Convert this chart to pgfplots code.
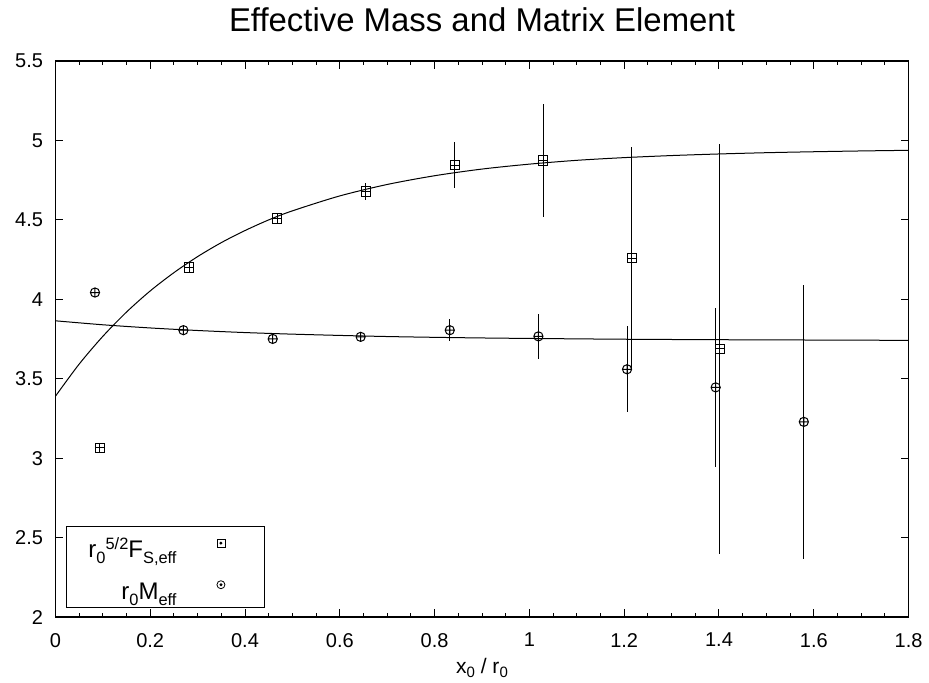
\documentclass[border=0pt]{standalone}
\usepackage{pgfplots}
\pgfplotsset{compat=1.18}
\usepackage{fontspec}
\setmainfont{Liberation Sans}
\newcommand{\mysub}[1]{\raisebox{-2.2pt}{\fontsize{7.5}{8}\selectfont #1}}
\newcommand{\lsub}[1]{\raisebox{-3pt}{\fontsize{8.2}{9}\selectfont #1}}
\newcommand{\lsup}[1]{\raisebox{4.2pt}{\fontsize{8.2}{9}\selectfont #1}}
\pgfdeclareplotmark{sqplus}{%
  \pgfpathrectangle{\pgfpoint{-\pgfplotmarksize}{-\pgfplotmarksize}}{\pgfpoint{2\pgfplotmarksize}{2\pgfplotmarksize}}%
  \pgfpathmoveto{\pgfpoint{-\pgfplotmarksize}{0pt}}\pgfpathlineto{\pgfpoint{\pgfplotmarksize}{0pt}}%
  \pgfpathmoveto{\pgfpoint{0pt}{-\pgfplotmarksize}}\pgfpathlineto{\pgfpoint{0pt}{\pgfplotmarksize}}%
  \pgfusepathqstroke}
\pgfdeclareplotmark{circplus}{%
  \pgfpathcircle{\pgfpointorigin}{\pgfplotmarksize}%
  \pgfpathmoveto{\pgfpoint{-\pgfplotmarksize}{0pt}}\pgfpathlineto{\pgfpoint{\pgfplotmarksize}{0pt}}%
  \pgfpathmoveto{\pgfpoint{0pt}{-\pgfplotmarksize}}\pgfpathlineto{\pgfpoint{0pt}{\pgfplotmarksize}}%
  \pgfusepathqstroke}
\begin{document}
\begin{tikzpicture}
\begin{axis}[
  at={(0,0)}, anchor=south west,
  scale only axis, width=426.5pt, height=278pt,
  xmin=0, xmax=1.8, ymin=2, ymax=5.5,
  xtick={0,0.2,0.4,0.6,0.8,1,1.2,1.4,1.6,1.8},
  xticklabels={0,0.2,0.4,0.6,0.8,1,1.2,1.4,1.6,1.8},
  ytick={2,2.5,3,3.5,4,4.5,5,5.5},
  yticklabels={2,2.5,3,3.5,4,4.5,5,5.5},
  minor x tick num=3,
  tick align=inside,
  major tick length=4pt, minor tick length=2pt,
  tick style={black, line width=0.5pt},
  axis line style={black, line width=0.75pt},
  ticklabel style={font=\fontsize{10}{12}\selectfont},
  xticklabel style={yshift=-4.5pt},
  yticklabel style={xshift=-2.7pt},
  /pgf/number format/assume math mode=true,
  title={Effective Mass and Matrix Element},
  title style={at={(axis description cs:0.5,1)}, anchor=base, yshift=9pt, font=\fontsize{16.45}{19}\selectfont},
  xlabel={x\mysub{0} / r\mysub{0}},
  xlabel style={at={(axis description cs:0.5,0)}, anchor=base, yshift=-28pt, font=\fontsize{10.5}{12}\selectfont},
  legend plot pos=right,
  legend cell align=right,
  legend style={at={(0.0124,0.0162)}, anchor=south west, draw=black, line width=0.5pt,
    inner xsep=11pt, inner ysep=2.2pt, row sep=5.3pt,
    font=\fontsize{12}{14}\selectfont,
    nodes={inner sep=0pt, text height=13.5pt, text depth=2pt}},
]
% fit curves
\addplot[black, line width=0.5pt, smooth, forget plot] coordinates {
(0,3.390) (0.05,3.592) (0.1,3.767) (0.15,3.920) (0.2,4.053) (0.25,4.168)
(0.3,4.269) (0.35,4.357) (0.4,4.433) (0.45,4.500) (0.5,4.557) (0.6,4.651)
(0.7,4.723) (0.8,4.778) (0.9,4.820) (1.0,4.851) (1.1,4.875) (1.2,4.892)
(1.3,4.905) (1.4,4.915) (1.5,4.923) (1.6,4.929) (1.7,4.934) (1.8,4.938)};
\addplot[black, line width=0.5pt, smooth, forget plot] coordinates {
(0,3.865) (0.1,3.840) (0.2,3.820) (0.3,3.804) (0.4,3.791) (0.5,3.781)
(0.6,3.773) (0.7,3.766) (0.8,3.761) (0.9,3.757) (1.0,3.754) (1.2,3.749)
(1.4,3.746) (1.6,3.744) (1.8,3.742)};
% F_S,eff
\addplot[black, line width=0.5pt, only marks, mark=sqplus, mark size=2.35pt,
  legend image code/.code={
    \path[draw=none] (0pt,0pt) -- (32.9pt,0pt);
    \draw[black, line width=0.4pt] (20.2pt,-0.5pt) rectangle (24.2pt,3.5pt);
    \fill[black] (22.2pt,1.5pt) circle (0.45pt);},
  error bars/.cd, y dir=both, y explicit, error mark=none,
  error bar style={black, line width=0.5pt}]
  table[x=x, y=y, y error=e] {
x y e
0.094 3.065 0
0.282 4.201 0.01
0.4675 4.509 0.015
0.655 4.679 0.055
0.843 4.845 0.145
1.029 4.874 0.355
1.216 4.260 0.696
1.402 3.688 1.29
};
\addlegendentry{r\lsub{0}\lsup{5/2}F\lsub{S,eff}}
% M_eff
\addplot[black, line width=0.5pt, only marks, mark=circplus, mark size=2.3pt,
  legend image code/.code={
    \path[draw=none] (0pt,0pt) -- (32.9pt,0pt);
    \draw[black, line width=0.4pt] (22.2pt,1.5pt) circle (2pt);
    \fill[black] (22.2pt,1.5pt) circle (0.45pt);},
  error bars/.cd, y dir=both, y explicit, error mark=none,
  error bar style={black, line width=0.5pt}]
  table[x=x, y=y, y error=e] {
x y e
0.0835 4.043 0
0.270 3.806 0.01
0.4585 3.751 0.01
0.644 3.764 0.02
0.832 3.806 0.07
1.019 3.767 0.14
1.206 3.560 0.27
1.393 3.446 0.50
1.579 3.229 0.86
};
\addlegendentry{r\lsub{0}M\lsub{eff}}
\end{axis}
\pgfresetboundingbox
\useasboundingbox (-27.7pt,-32.5pt) rectangle (436.7pt,308.5pt);
\end{tikzpicture}
\end{document}
